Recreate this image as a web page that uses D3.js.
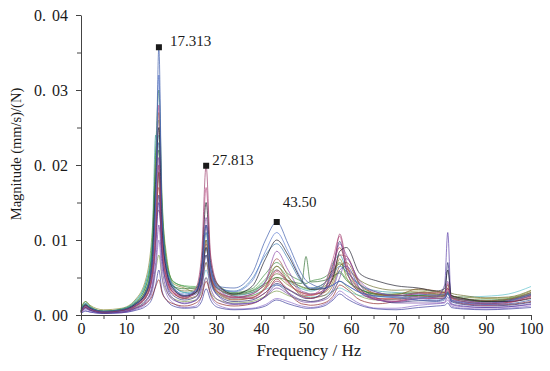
<!DOCTYPE html>
<html>
<head>
<meta charset="utf-8">
<script src="https://cdn.jsdelivr.net/npm/d3@7"></script>
<style>
  body { margin: 0; background: #fff; }
  text { font-family: "Liberation Serif", "DejaVu Serif", serif; fill: #1a1a1a; }
</style>
</head>
<body>
<svg id="chart" width="550" height="371"></svg>
<script>
// frequency grid (Hz) shared by every measured curve
const freqs = [0, 1, 2, 5, 9, 12, 14.5, 15.8, 16.6, 17.3, 18, 19, 20.5, 23, 25.5, 26.8, 27.8, 28.8, 30.5, 34,
  38, 41, 43.5, 46, 49, 50, 51, 54, 56, 57.5, 59, 62, 66, 70, 75, 79, 80.8, 81.5, 82.3, 85, 90, 95, 100];

// magnitudes in units of 1e-3 (mm/s)/N
const curveA = [0.6,1.5,1.0,0.5,0.7,1.5,3.2,7,16,35.7,14,6.5,3.8,2.6,3.2,6,12,6.5,3.8,3.6,5.5,10,12.4,9.5,5.5,4.6,4.2,3.6,4,4.5,4,3,2.5,2.3,2,1.8,2,3,1.8,1.6,1.4,1.5,2];
const curveB = [0.4,1.2,0.8,0.4,0.6,1.2,2.5,5,10,20,9,5,3,2.2,3.5,8,19.9,8,4,2.5,2.2,3,4.5,3.5,2.5,2.3,2.2,3,5.5,10.8,7,3.5,2.2,2,2.5,2.4,2.6,3.5,2.2,1.8,1.5,1.7,2.6];
const curveC = [0.8,1.8,1.2,0.5,0.7,1.6,4,9,22,30,16,7,4.5,3.8,3.6,5.5,10,6,4,3,3.5,5.5,7,5.5,4.5,4.2,4.5,5,6,7,5.5,3.5,2.8,2.8,3,2.8,2.8,3,2.6,2.2,2,2.2,3];
const curveD = [0.5,1.3,0.9,0.4,0.6,1.4,3,7,18,25,12,6,3.5,2.5,3,6.5,15,7,4,2.8,3.8,7.5,10,8,4.6,3.8,3.4,3.5,5,8.5,9,5.5,4.5,3.9,3.6,3.2,3.5,6,2.6,2.2,1.8,1.8,2.2];
const curveE = [0.3,0.9,0.6,0.3,0.4,0.9,2,4,9,15,8,4,2.2,1.5,2,4,8,4.5,2.5,1.5,1.6,2.5,4,3,2,1.9,1.8,2.2,3.5,6,6.5,3.5,2,1.8,2.2,2.4,4,11,1.5,1.2,1,1.1,1.5];
const curveF = [0.6,1.4,1,0.5,0.8,1.8,4.5,10,24,18,13,7,4,3,3.2,5,9,5.5,3.5,2.6,3,4.5,6,4.5,3.5,3.3,3.2,4,7,8,6,4,3.2,3,2.8,2.7,2.8,3.2,2.4,2,1.8,2,2.8];
const curveG = [1,1.8,1.3,0.7,0.9,2,5,11,20,27,15,8,4.2,3.6,3,4.2,7,4.5,3,2.4,2.6,3.5,5,4,3,2.9,2.8,3,4.5,7.5,5,3.2,2.6,2.8,3.2,2.8,2.6,3,2.5,2.4,2.2,2.3,3.2];
const curveH = [0.3,1,0.7,0.3,0.4,0.9,1.6,2.5,3.8,4.7,3,2,1.5,1.2,1.6,2.5,4.5,2.8,1.6,1.2,1.5,2.6,4.8,3,1.5,1.4,1.3,1.6,2.5,4,3.5,2,1.5,1.8,2.3,2.2,2.2,2.8,2,1.5,1.3,1.4,1.8];
const curveI = [0.4,1.1,0.8,0.4,0.5,1.1,2.4,5,12,28,11,5,3,2.5,3.2,7,17,7.5,3.6,2.3,2.4,3.5,5.8,4.2,3,2.8,2.7,4,7.5,10.5,6,3,2,1.8,2.2,2.2,2.4,3.3,2,1.6,1.3,1.6,2.4];
const curveJ = [0.5,1.2,0.8,0.4,0.5,1.3,3,7,15,32,13,6,3.5,2.8,3.2,6,11,6,3.6,3.1,4.5,8.5,11,8.5,4.8,4,3.6,3.5,4,4.5,4,3,2.5,2.4,2.2,2,2.2,3,2,1.7,1.5,1.8,2.6];
const curveK = [0.2,0.6,0.4,0.2,0.3,0.7,1.5,3,6,10,5,2.8,1.6,1,1.2,2.5,5,2.6,1.3,0.8,0.9,1.4,2.2,1.8,1.2,1.1,1,1.4,2.2,3.2,2.6,1.5,0.9,0.9,1.3,1.5,1.6,2,1.2,0.9,0.8,0.9,1.2];
const curveL = [0.6,1.4,1,0.5,0.7,1.5,3.5,8,17,22,12,6,3.8,3.5,3.6,5,8,5,3.5,2.8,3.2,4.2,5,4.6,4.2,7.8,4.4,4.6,5.2,5.6,4.6,3.4,2.7,2.6,2.6,2.4,2.5,2.9,2.3,2,1.8,2,2.7];
const curveM = [0.4,1,0.7,0.4,0.6,1.2,2.6,5.5,11,19,10,5,3,2.2,2.5,4.5,10,5,2.8,2,2.3,3.8,6.5,4.5,2.6,2.4,2.3,2.6,4,6.5,7,4,2.8,2.7,3.5,3.2,3,4,2.4,2,1.7,1.9,2.5];
const curveN = [0.2,0.5,0.4,0.2,0.3,0.6,1.2,2.2,4,6,3.2,2,1.2,0.9,1,1.8,3.5,2,1,0.7,0.8,1.2,2,1.5,1,0.9,0.9,1.2,2,2.8,2.2,1.3,0.8,0.7,1,1.2,1.3,1.6,1,0.8,0.7,0.8,1];
const curveO = [0.7,1.6,1.1,0.5,0.8,1.9,4.5,9,19,24,14,7,4,3,2.8,4,6,4,2.8,2.2,2.6,3.4,4,3.4,2.6,2.5,2.4,2.6,3.2,3.6,3.2,2.6,2.4,2.5,2.8,2.6,2.6,2.9,2.5,2.4,2.5,2.8,3.8];
const curveP = [0.5,1.2,0.8,0.4,0.6,1.3,3,6.5,14,21,11,5.5,3.2,2.4,2.8,5.5,13,6,3.2,2.4,2.8,4.5,8.5,6,3.2,3,2.8,3.3,6,9.5,8,4.5,3,2.6,2.8,2.6,2.8,4.5,2.4,2,1.6,1.9,2.8];
const curveQ = [0.5,1.1,0.8,0.4,0.5,1,2,3.5,6,8,5,3.2,2.2,1.8,2,3,5,3,2,1.6,1.8,2.5,3.2,2.6,2,1.9,1.8,2.2,3.2,4.5,3.8,2.5,2,2.1,2.6,2.6,2.7,3.1,2.4,2.1,1.9,2.1,2.8];
const curveR = [0.4,1,0.7,0.3,0.5,1.1,2.4,5,10,16,8,4.2,2.6,2,2.4,4.5,9,4.8,2.6,1.8,2,3,4.2,3.4,2.4,2.2,2.2,3.2,6.5,9.8,6,3,2,1.7,1.9,1.9,2.2,7,1.8,1.4,1.2,1.3,1.7];
const curveS = [0.5,1.1,0.8,0.4,0.5,1.2,2.8,6,13,17,9,4.6,2.8,2.3,3,5.2,12,5.5,3,2.1,2.3,3.6,6,4.4,2.8,2.6,2.6,3.4,6.8,9,6.5,3.2,2.2,2.2,2.9,2.8,3,4.2,2.3,1.8,1.5,1.7,2.3];
const curveT = [0.7,1.5,1,0.5,0.8,1.7,4,8.5,21,26,14,7.5,4.4,3.9,3.8,5.8,11,5.8,3.8,2.9,3.3,4.8,6.5,5,3.7,3.5,3.4,3.8,4.8,5.8,4.8,3.4,2.8,2.6,2.6,2.5,2.6,3,2.4,2.1,1.9,2.1,2.9];
const curveU = [0.5,1.2,0.9,0.4,0.6,1.4,3.2,7.5,16,23,12,6,3.6,2.6,3,5.5,12,6,3.6,3.2,4.8,8,9.5,7.5,4.4,3.8,3.6,4.2,5.5,6.5,5.8,4,3,2.6,2.4,2.2,2.3,2.8,2,1.8,1.6,1.9,2.7];
const curveV = [0.6,1.3,0.9,0.5,0.7,1.5,3.4,7,14,19,11,6,3.8,3.2,3.4,5,9,5,3.4,2.7,3,4,5.5,4.6,3.8,3.6,3.5,4.2,5.8,6.8,6.2,4.6,3.6,3.3,3.4,3.1,3.2,3.5,2.9,2.6,2.3,2.4,3.3];
const curveW = [0.3,0.8,0.6,0.3,0.4,0.8,1.8,3.5,7,12,6.5,3.4,2,1.6,1.9,3.5,7,3.6,2,1.4,1.6,2.4,3.6,2.8,1.8,1.7,1.7,2,3,5,7.5,4,2.2,1.6,1.6,1.6,1.7,2.4,1.4,1.1,1,1.1,1.4];
const curveX = [0.5,1.2,0.8,0.4,0.6,1.3,2.9,6,12,14,10,5.5,3.3,2.6,3,5,9.5,5.2,3,2.3,2.8,4.4,7.5,5.2,3,2.8,2.7,3.1,5,8,7.8,4.2,2.8,2.5,3,3,3,3.6,2.6,2.2,1.9,2.1,3];

const curves = [curveO, curveQ, curveK, curveN, curveH, curveW, curveV, curveT, curveG, curveF, curveC, curveL,
  curveS, curveX, curveM, curveR, curveE, curveU, curveP, curveI, curveJ, curveD, curveB, curveA];
const colors = ["#5cc0cc", "#7a9a48", "#8a6ac8", "#3a3a9a", "#8b2525", "#7040a0", "#6a6a28", "#4caa4c", "#8a8a30", "#3a9fa6",
  "#3d8a3d", "#2e6e2e", "#c24848", "#a04848", "#8a5a2a", "#2a2a70", "#5b3fa8", "#3a7ab0", "#8a44a8", "#c0508a",
  "#5a7ad0", "#1a1a2a", "#9a3a6a", "#3b5bab"];

// peak annotations
const peakFreqs = [17.313, 27.813, 43.5];
const peakMags = [35.7, 19.9, 12.4];
const peakLabels = ["17.313", "27.813", "43.50"];

const xTicks = [0, 10, 20, 30, 40, 50, 60, 70, 80, 90, 100];
const yTicks = [0, 0.01, 0.02, 0.03, 0.04];
const yTickLabels = ["0.00", "0.01", "0.02", "0.03", "0.04"];

const svg = d3.select("#chart");
const margin = { top: 15, left: 81 };
const width = 450, height = 300;

const x = d3.scaleLinear().domain([0, 100]).range([0, width]);
const y = d3.scaleLinear().domain([0, 0.04]).range([height, 0]);

const g = svg.append("g").attr("transform", `translate(${margin.left},${margin.top})`);

// curves
const line = d3.line()
  .x((d, i) => x(freqs[i]))
  .y(d => y(d / 1000))
  .curve(d3.curveMonotoneX);

g.selectAll(".frf")
  .data(curves)
  .enter()
  .append("path")
  .attr("class", "frf")
  .attr("d", line)
  .attr("fill", "none")
  .attr("stroke", (d, i) => colors[i])
  .attr("stroke-width", 0.8)
  .attr("stroke-opacity", 0.85);

// axes
const xAxis = g.append("g")
  .attr("transform", `translate(0,${height})`)
  .call(d3.axisBottom(x).tickValues(xTicks).tickSize(5).tickPadding(3).tickSizeOuter(0));
g.append("g")
  .attr("transform", `translate(0,${height})`)
  .call(d3.axisBottom(x).tickValues(d3.range(5, 100, 10)).tickSize(4).tickFormat("").tickSizeOuter(0))
  .select(".domain").remove();

const yAxis = g.append("g")
  .call(d3.axisLeft(y).tickValues(yTicks).tickSize(5).tickPadding(8).tickSizeOuter(0));
g.append("g")
  .call(d3.axisLeft(y).tickValues([0.005, 0.015, 0.025, 0.035]).tickSize(4).tickFormat("").tickSizeOuter(0))
  .select(".domain").remove();

svg.selectAll(".domain, .tick line").attr("stroke", "#444");

xAxis.selectAll("text").attr("font-size", 16).attr("fill", "#1a1a1a");

// y tick labels: wide period like the original font
yAxis.selectAll(".tick text").each(function(d, i) {
  const t = d3.select(this).text("").attr("font-size", 16).attr("fill", "#1a1a1a");
  const parts = yTickLabels[i].split(".");
  t.append("tspan").text(parts[0] + ".");
  t.append("tspan").attr("dx", 6).text(parts[1]);
});

// axis titles
svg.append("text")
  .attr("x", margin.left + width / 2 + 3)
  .attr("y", 356)
  .attr("text-anchor", "middle")
  .attr("font-size", 17)
  .text("Frequency / Hz");

svg.append("text")
  .attr("transform", `translate(21,${154}) rotate(-90)`)
  .attr("text-anchor", "middle")
  .attr("font-size", 14.5)
  .text("Magnitude (mm/s)/(N)");

// peak markers and labels
const labelOffsets = [[11, -1], [6, -1], [6, -15]];
peakFreqs.forEach((f, i) => {
  const px = x(f), py = y(peakMags[i] / 1000);
  g.append("rect")
    .attr("x", px - 3).attr("y", py - 3)
    .attr("width", 6).attr("height", 6)
    .attr("fill", "#1a1a1a");
  g.append("text")
    .attr("x", px + labelOffsets[i][0])
    .attr("y", py + labelOffsets[i][1])
    .attr("font-size", 15)
    .text(peakLabels[i]);
});
</script>
</body>
</html>
